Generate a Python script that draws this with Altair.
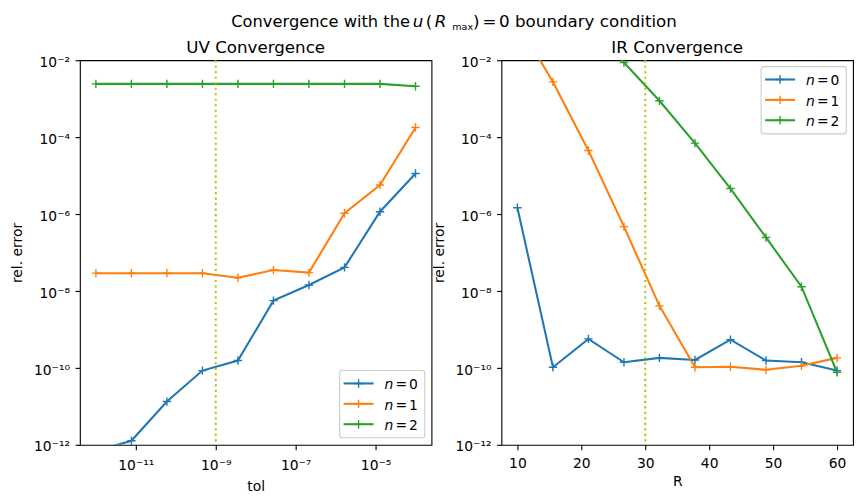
import altair as alt
import pandas as pd

# ---- data -------------------------------------------------------------
series_names = ["0", "1", "2"]
colors = ["#1f77b4", "#ff7f0e", "#2ca02c"]

tol = [1e-12, 7.74e-12, 5.99e-11, 4.64e-10, 3.59e-9,
       2.78e-8, 2.15e-7, 1.67e-6, 1.29e-5, 1e-4]
uv_n0 = [6.9e-13, 1.27e-12, 1.33e-11, 8.5e-11, 1.55e-10,
         5.6e-9, 1.43e-8, 4.1e-8, 1.15e-6, 1.13e-5]
uv_n1 = [2.9e-8, 2.9e-8, 2.9e-8, 2.9e-8, 2.2e-8,
         3.5e-8, 3.0e-8, 1.05e-6, 5.7e-6, 1.78e-4]
uv_n2 = [2.43e-3, 2.43e-3, 2.43e-3, 2.43e-3, 2.43e-3,
         2.43e-3, 2.43e-3, 2.43e-3, 2.43e-3, 2.1e-3]

radius = [10, 15.56, 21.11, 26.67, 32.22, 37.78, 43.33, 48.89, 54.44, 60]
ir_n0 = [1.46e-6, 1.04e-10, 5.66e-10, 1.4e-10, 1.82e-10,
         1.6e-10, 5.4e-10, 1.55e-10, 1.4e-10, 8.5e-11]
ir_n1 = [9.8e-2, 2.73e-3, 4.5e-5, 4.7e-7, 4.1e-9,
         1.04e-10, 1.07e-10, 8.9e-11, 1.13e-10, 1.82e-10]
ir_n2 = [20.0, 1.1, 0.1, 8.7e-3, 8.8e-4,
         7.0e-5, 4.6e-6, 2.46e-7, 1.29e-8, 7.7e-11]

tol_chosen = 1e-9
r_chosen = 30

# ---- styling ----------------------------------------------------------
FONT = "DejaVu Sans"
W, H = 352, 385
LINE_W = 2.08
PLUS = "M-1,0L1,0M0,-1L0,1"
SUP = str.maketrans("-0123456789", "⁻⁰¹²³⁴⁵⁶⁷⁸⁹")
one_row = pd.DataFrame({"k": [0]})


def long_frame(xs, series):
    rows = []
    for name, ys in zip(series_names, series):
        for i, (xv, yv) in enumerate(zip(xs, ys)):
            rows.append({"x": xv, "err": yv, "n": name, "order": i})
    return pd.DataFrame(rows)


def pow10_expr(exps):
    expr = "''"
    for e in exps:
        expr = (f"round(log(datum.value)/LN10) == {e} ? "
                f"'10{str(e).translate(SUP)}' : ({expr})")
    return expr


def text(t, x, y, size=13.9, style="normal", align="left"):
    return alt.Chart(one_row).mark_text(
        text=t, font=FONT, fontSize=size, fontStyle=style, align=align,
        baseline="alphabetic", color="black",
    ).encode(x=alt.value(x), y=alt.value(y))


def legend_layers(top):
    layers = [
        alt.Chart(one_row).mark_rect(
            fill="white", fillOpacity=0.8, stroke="#cccccc", strokeWidth=1.1,
            cornerRadius=2.8,
        ).encode(x=alt.value(260), x2=alt.value(345.3),
                 y=alt.value(top), y2=alt.value(top + 67.3))
    ]
    for i, (name, col) in enumerate(zip(series_names, colors)):
        cy = top + 12.9 + 20.4 * i
        layers.append(alt.Chart(one_row).mark_rule(
            color=col, strokeWidth=LINE_W).encode(
            x=alt.value(264), x2=alt.value(294), y=alt.value(cy)))
        layers.append(alt.Chart(one_row).mark_point(
            shape=PLUS, size=70, filled=False, strokeWidth=1.4, color=col,
            opacity=1).encode(x=alt.value(279), y=alt.value(cy)))
        layers.append(text("n", 305, cy + 5.8, style="italic"))
        layers.append(text("=", 316, cy + 5.8))
        layers.append(text(name, 329.5, cy + 5.8))
    return layers


y_scale = alt.Scale(type="log", domain=[1e-12, 1e-2], nice=False)


def y_enc(title_x):
    return alt.Y(
        "err:Q", scale=y_scale,
        axis=alt.Axis(
            values=[1e-12, 1e-10, 1e-8, 1e-6, 1e-4, 1e-2],
            labelExpr=pow10_expr([-12, -10, -8, -6, -4, -2]),
            labelBaseline="alphabetic", labelOffset=6.2, labelPadding=5.5,
            title="rel. error", titleX=title_x, titleY=H / 2,
            titleAngle=270, titleAlign="center", titleBaseline="alphabetic",
        ),
    )


color_enc = alt.Color("n:N", scale=alt.Scale(domain=series_names, range=colors),
                      legend=None)


def panel(df, x_enc, rule_df, legend_top, title, extra):
    base = alt.Chart(df)
    lines = base.mark_line(strokeWidth=LINE_W, clip=True).encode(
        x=x_enc, y=y_enc(-58), color=color_enc, order="order:Q")
    marks = base.mark_point(shape=PLUS, size=70, filled=False, strokeWidth=1.4,
                            opacity=1, clip=True).encode(
        x=x_enc, y=y_enc(-58), color=color_enc)
    rule = alt.Chart(rule_df).mark_rule(
        color="#bfbf00", strokeWidth=2.0, strokeDash=[2.1, 3.4]).encode(x=x_enc)
    head = text(title, W / 2, -7.6, size=16.7, align="center")
    layers = [lines, marks, rule, head] + legend_layers(legend_top) + extra
    return alt.layer(*layers).properties(width=W, height=H)


# ---- UV panel ---------------------------------------------------------
uv_df = long_frame(tol, [uv_n0, uv_n1, uv_n2])
uv_x = alt.X(
    "x:Q",
    scale=alt.Scale(type="log", domain=[10 ** -12.4, 10 ** -3.6], nice=False),
    axis=alt.Axis(values=[1e-11, 1e-9, 1e-7, 1e-5],
                  labelExpr=pow10_expr([-11, -9, -7, -5]),
                  labelPadding=8.4, labelBaseline="top",
                  title="tol", titleY=46, titleBaseline="alphabetic"),
)
# overall suptitle, placed relative to the left panel's plot origin
ox, oy = 79.3, 59.3
tb = 25.6 - oy
title_pieces = [
    text("Convergence with the", 230.8 - ox, tb, size=16.3),
    text("u", 412.5 - ox, tb, size=16.7, style="italic"),
    text("(", 425.5 - ox, tb, size=16.7),
    text("R", 434.5 - ox, tb, size=16.7, style="italic"),
    text("max", 452.0 - ox, tb + 3.0, size=9.6),
    text(")", 472.8 - ox, tb, size=16.7),
    text("=", 482.3 - ox, tb, size=16.7),
    text("0 boundary condition", 499.0 - ox, tb, size=16.7),
]
# corner anchor that fixes the figure's top-left extent
corner_tl = alt.Chart(one_row).mark_rect(fill="white").encode(
    x=alt.value(-ox), x2=alt.value(-ox + 1), y=alt.value(-oy), y2=alt.value(-oy + 1))
uv = panel(uv_df, uv_x, pd.DataFrame({"x": [tol_chosen]}), 310.7,
           "UV Convergence", title_pieces + [corner_tl])

# ---- IR panel ---------------------------------------------------------
ir_df = long_frame(radius, [ir_n0, ir_n1, ir_n2])
ir_x = alt.X(
    "x:Q",
    scale=alt.Scale(domain=[7.5, 62.5], nice=False, zero=False),
    axis=alt.Axis(values=[10, 20, 30, 40, 50, 60], format="d",
                  labelPadding=6.6, labelBaseline="top",
                  title="R", titleY=41, titleBaseline="alphabetic"),
)
rx = 501.7
corner_br = alt.Chart(one_row).mark_rect(fill="white").encode(
    x=alt.value(863 - rx - 1), x2=alt.value(863 - rx),
    y=alt.value(502 - oy - 1), y2=alt.value(502 - oy))
ir = panel(ir_df, ir_x, pd.DataFrame({"x": [r_chosen]}), 6.4,
           "IR Convergence", [corner_br])

chart = alt.hconcat(uv, ir, spacing=70, bounds="flush").properties(
    padding=0, background="white"
).configure_view(
    stroke="black", strokeWidth=1.1
).configure_axis(
    grid=False, domain=False,
    labelFont=FONT, labelFontSize=13.9, labelColor="black",
    tickColor="black", tickSize=4.9, tickWidth=1.1,
    titleFont=FONT, titleFontSize=13.9, titleFontWeight="normal",
    titleColor="black",
)

chart.save("out.html", embed_options={"renderer": "svg", "actions": False})
